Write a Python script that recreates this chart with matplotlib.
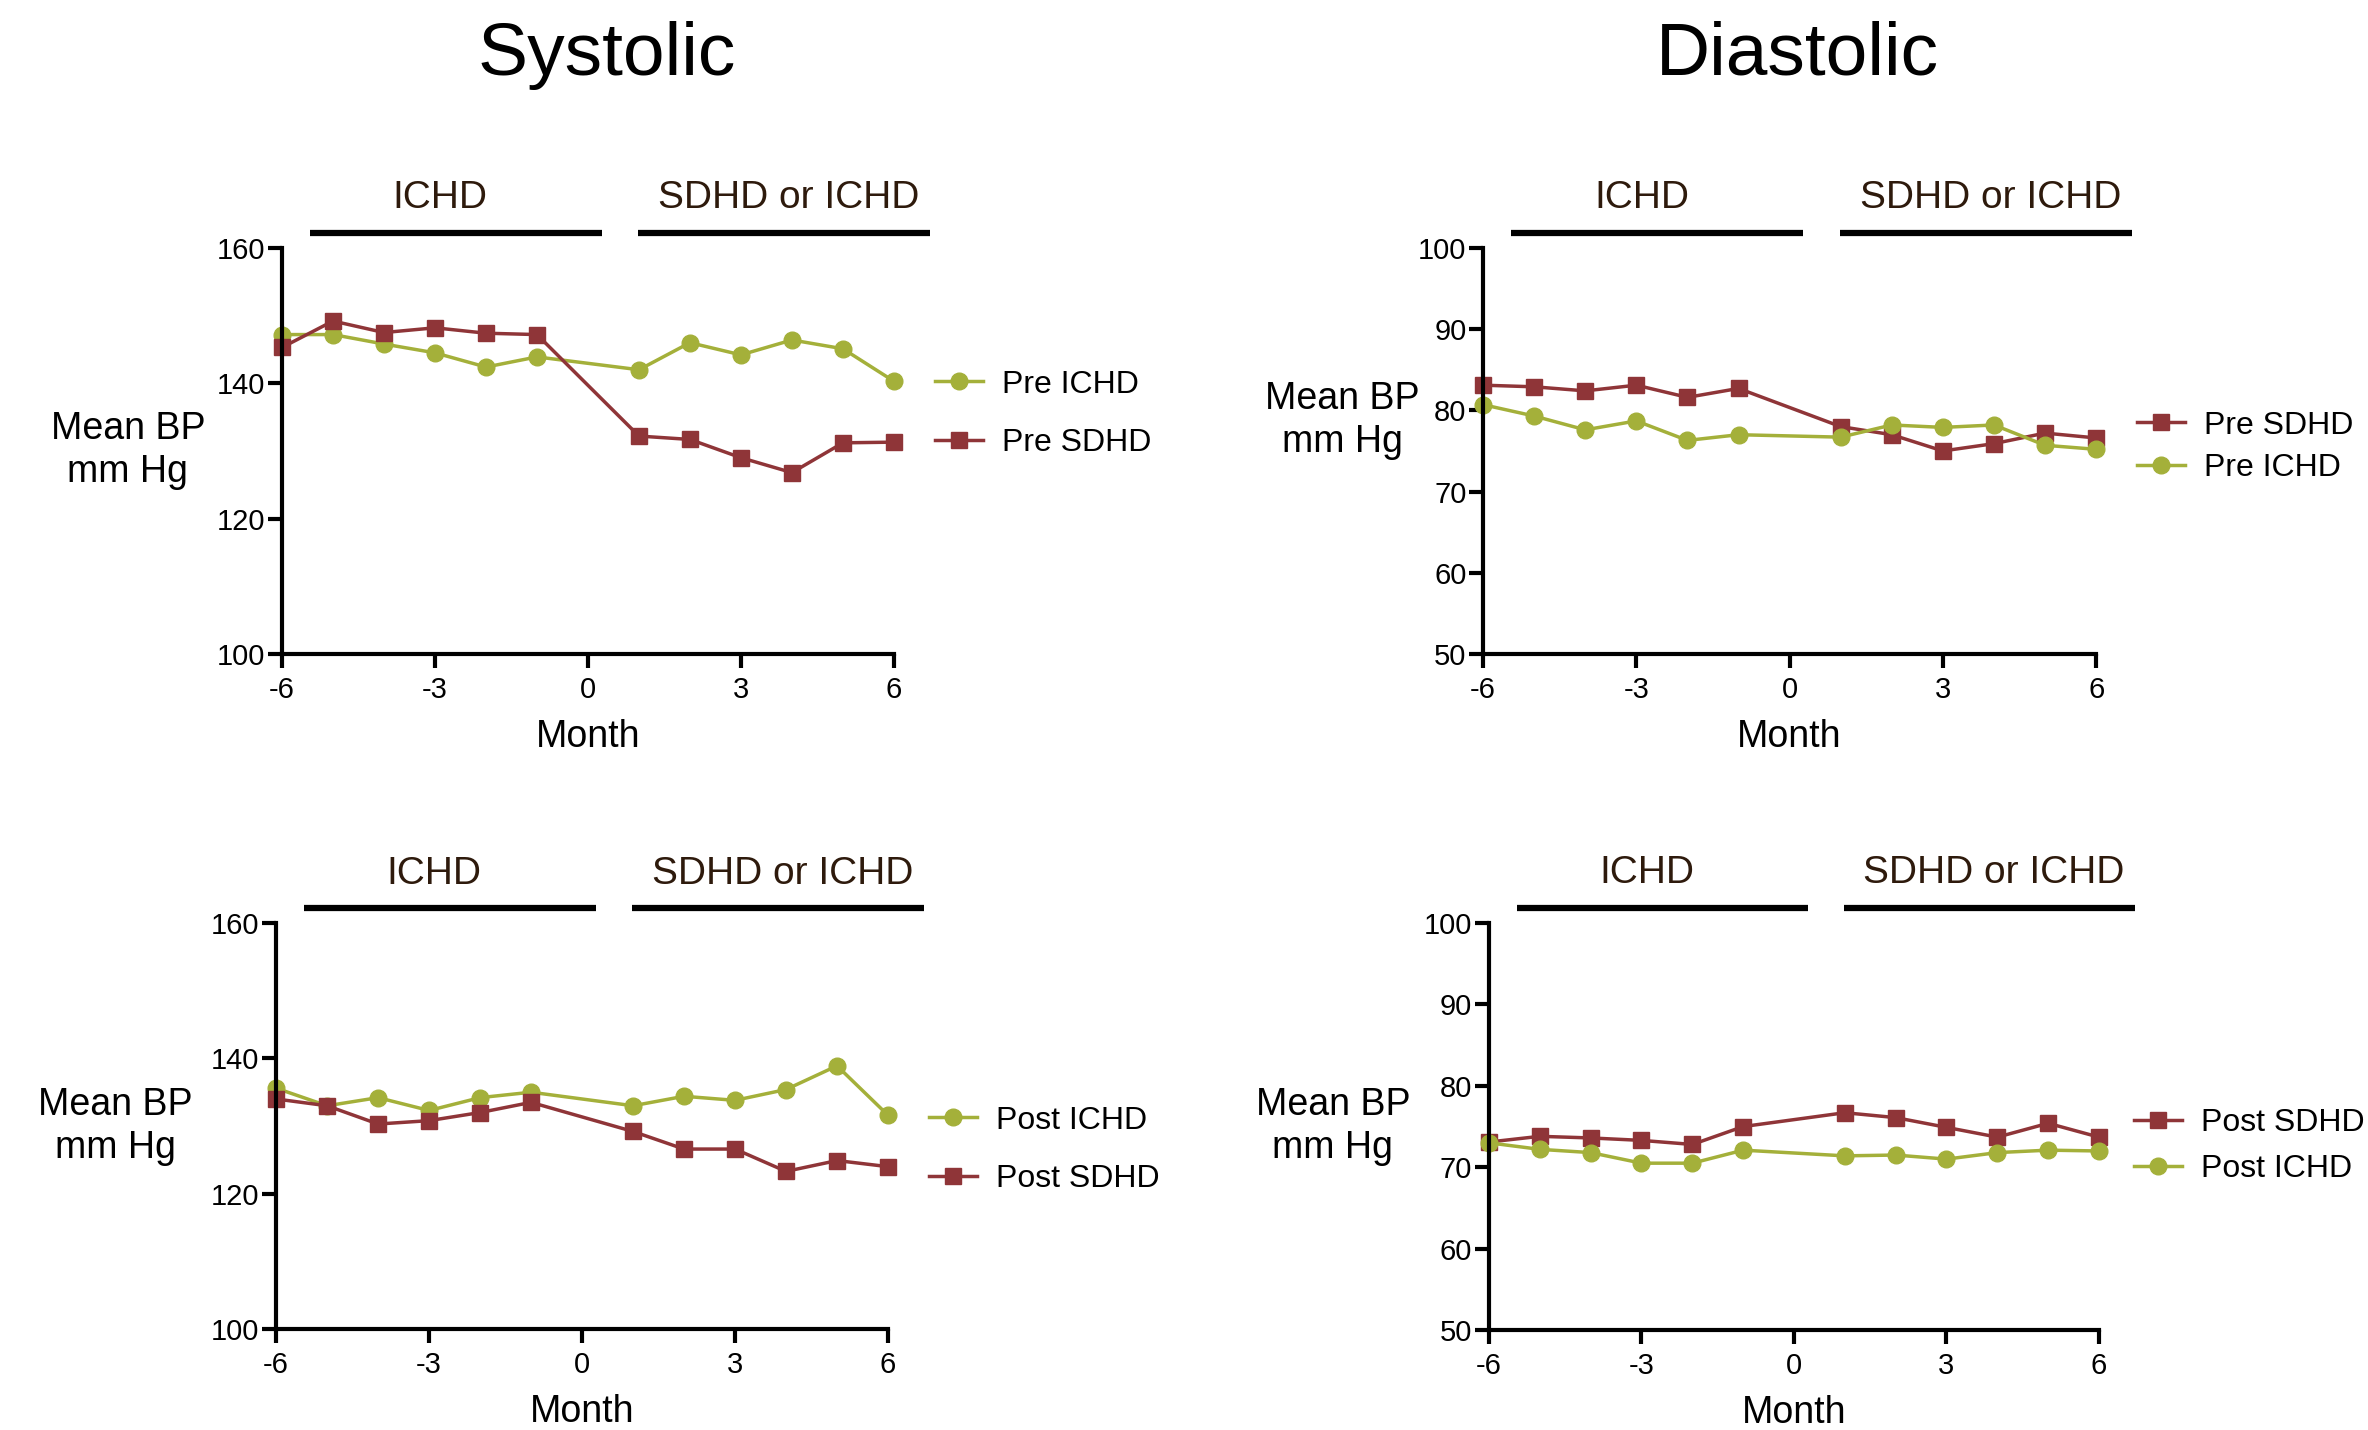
import numpy as np
import matplotlib
matplotlib.use("Agg")
from matplotlib import pyplot as plt
from matplotlib.transforms import blended_transform_factory

plt.rcParams['font.family'] = ['Liberation Sans', 'DejaVu Sans']
plt.rcParams['axes.unicode_minus'] = False

months = [-6, -5, -4, -3, -2, -1, 1, 2, 3, 4, 5, 6]

sys_pre_ichd = [147.2, 147.2, 145.8, 144.5, 142.4, 143.9, 142.0, 146.0, 144.2, 146.4, 145.1, 140.3]
sys_pre_sdhd = [145.3, 149.2, 147.5, 148.2, 147.4, 147.2, 132.2, 131.7, 129.0, 126.8, 131.2, 131.3]
dia_pre_sdhd = [83.1, 82.9, 82.4, 83.1, 81.6, 82.7, 78.0, 77.0, 75.0, 75.9, 77.2, 76.6]
dia_pre_ichd = [80.7, 79.3, 77.6, 78.7, 76.3, 77.0, 76.7, 78.2, 77.9, 78.2, 75.7, 75.2]
sys_post_ichd = [135.6, 133.0, 134.2, 132.3, 134.2, 135.0, 133.0, 134.4, 133.8, 135.4, 138.9, 131.6]
sys_post_sdhd = [134.0, 133.0, 130.3, 130.8, 132.0, 133.5, 129.2, 126.6, 126.6, 123.3, 124.9, 124.0]
dia_post_sdhd = [73.1, 73.8, 73.6, 73.3, 72.8, 75.0, 76.7, 76.1, 74.9, 73.7, 75.4, 73.7]
dia_post_ichd = [73.0, 72.2, 71.8, 70.5, 70.5, 72.1, 71.4, 71.5, 71.0, 71.8, 72.1, 72.0]

period_labels = ["ICHD", "SDHD or ICHD"]
period_spans = [(-5.45, 0.27), (0.98, 6.7)]
period_label_x = [-2.9, 3.93]

GREEN = '#a4b03a'
RED = '#8f3538'
BROWN = '#2e1a0c'

fig = plt.figure(figsize=(23.68, 14.30), dpi=100)


def make_panel(rect, ylim, yticks, series, leg_anchor, leg_spacing, ylab_pos):
    ax = fig.add_axes(rect)
    for vals, color, marker, label in series:
        ax.plot(months, vals, color=color, marker=marker, markersize=12,
                linewidth=2.5, label=label, clip_on=False)
    ax.set_xlim(-6, 6)
    ax.set_ylim(*ylim)
    ax.set_xticks([-6, -3, 0, 3, 6])
    ax.set_yticks(yticks)
    for s in ['top', 'right']:
        ax.spines[s].set_visible(False)
    for s in ['left', 'bottom']:
        ax.spines[s].set_linewidth(3)
    ax.tick_params(axis='both', width=3, length=10, labelsize=21, direction='out')
    ax.tick_params(axis='x', pad=6)
    ax.tick_params(axis='y', pad=2)

    trans = blended_transform_factory(ax.transData, ax.transAxes)
    for (x0, x1), lab, lx in zip(period_spans, period_labels, period_label_x):
        ax.plot([x0, x1], [1.037, 1.037], color='black', linewidth=4.5,
                transform=trans, clip_on=False, solid_capstyle='butt')
        ax.text(lx, 1.122, lab, transform=trans, ha='center', va='center',
                fontsize=28, color=BROWN)

    ax.text(0.5, -0.204, "Month", transform=ax.transAxes, ha='center',
            va='center', fontsize=27)
    ax.text(ylab_pos[0], ylab_pos[1], "Mean BP\nmm Hg", transform=ax.transAxes,
            ha='center', va='center', fontsize=27, linespacing=1.25)

    ax.legend(loc='center left', bbox_to_anchor=leg_anchor, frameon=False,
              fontsize=23, handlelength=1.5, handletextpad=0.6,
              borderpad=0, borderaxespad=0, labelspacing=leg_spacing)
    return ax


make_panel([0.1191, 0.5427, 0.2584, 0.2839], (100, 160), [100, 120, 140, 160],
           [(sys_pre_ichd, GREEN, 'o', 'Pre ICHD'), (sys_pre_sdhd, RED, 's', 'Pre SDHD')],
           (1.067, 0.591), 0.9, (-0.252, 0.5))
make_panel([0.6263, 0.5427, 0.2589, 0.2839], (50, 100), [50, 60, 70, 80, 90, 100],
           [(dia_pre_sdhd, RED, 's', 'Pre SDHD'), (dia_pre_ichd, GREEN, 'o', 'Pre ICHD')],
           (1.067, 0.510), 0.4, (-0.230, 0.574))
make_panel([0.1166, 0.0706, 0.2584, 0.2839], (100, 160), [100, 120, 140, 160],
           [(sys_post_ichd, GREEN, 'o', 'Post ICHD'), (sys_post_sdhd, RED, 's', 'Post SDHD')],
           (1.067, 0.441), 0.9, (-0.263, 0.5))
make_panel([0.6288, 0.0699, 0.2576, 0.2846], (50, 100), [50, 60, 70, 80, 90, 100],
           [(dia_post_sdhd, RED, 's', 'Post SDHD'), (dia_post_ichd, GREEN, 'o', 'Post ICHD')],
           (1.057, 0.452), 0.5, (-0.256, 0.5))

fig.text(607 / 2368, 1 - 55 / 1430, "Systolic", ha='center', va='center', fontsize=54)
fig.text(1797 / 2368, 1 - 55 / 1430, "Diastolic", ha='center', va='center', fontsize=54)

fig.savefig("out.png", dpi=100)
